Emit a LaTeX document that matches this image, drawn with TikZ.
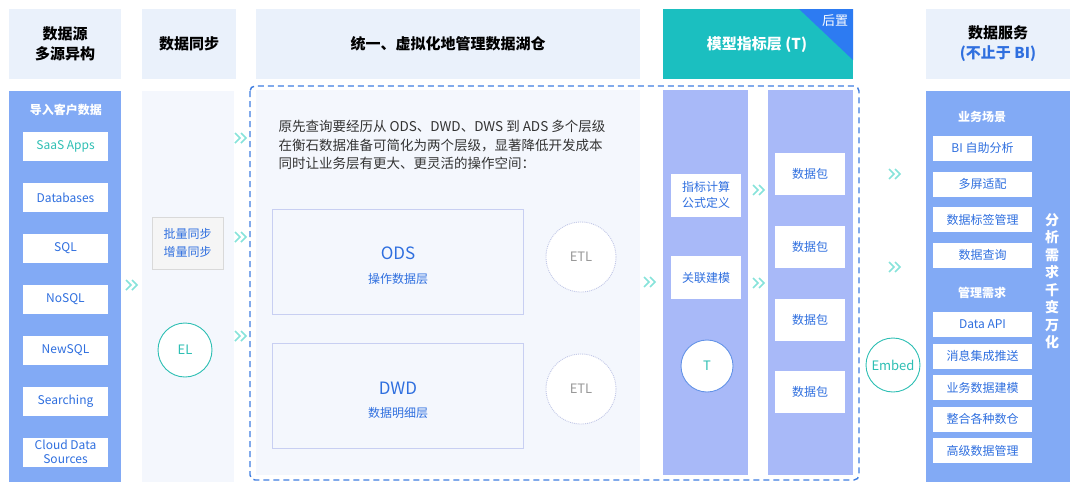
\documentclass[tikz,border=0pt]{standalone}
\usepackage{fontspec}
\setmainfont{Noto Sans CJK SC}
\definecolor{headbg}{HTML}{EAF1FB}
\definecolor{panelbg}{HTML}{F4F7FD}
\definecolor{colblue}{HTML}{82AAF5}
\definecolor{stripblue}{HTML}{A8B9F8}
\definecolor{tealhead}{HTML}{1BBFC0}
\definecolor{cornerblue}{HTML}{2D7BF2}
\definecolor{txtblue}{HTML}{2F6FDF}
\definecolor{txtteal}{HTML}{2EBFB4}
\definecolor{chevteal}{HTML}{86E3DA}
\definecolor{dashblue}{HTML}{3E7DE0}
\definecolor{layerline}{HTML}{C8CFF2}
\definecolor{txtdark}{HTML}{333333}
\begin{document}
\begin{tikzpicture}[x=1pt,y=-1pt,
    head/.style={fill=headbg,inner sep=0,align=center,font=\fontsize{15}{20}\selectfont\bfseries},
    panel/.style={inner sep=0},
    srcbox/.style={fill=white,minimum width=85,minimum height=29,inner sep=0,align=center,text=txtblue,font=\fontsize{12}{15}\selectfont},
    pkgbox/.style={fill=white,minimum width=70,minimum height=42,inner sep=0,align=center,text=txtblue,font=\fontsize{12}{16}\selectfont},
    svcbox/.style={fill=white,minimum width=99,minimum height=25,inner sep=0,text=txtblue,font=\fontsize{12}{15}\selectfont},
    layer/.style={draw=layerline,fill=panelbg,minimum width=251,minimum height=105,inner sep=0},
    etl/.style={circle,draw=layerline!90!gray,densely dotted,line width=0.9pt,fill=white,minimum size=70,inner sep=0,text=gray!80,font=\fontsize{13}{15}\selectfont},
    ring/.style={circle,draw=txtteal,line width=0.9pt,fill=white,minimum size=54,inner sep=0,text=txtteal,font=\fontsize{13}{15}\selectfont},
    sublabel/.style={text=white,font=\fontsize{12}{15}\selectfont\bfseries},
    chevline/.style={draw=chevteal,line width=1.6pt},
    chev/.pic={\draw[chevline] (-6,-5) -- (-1,0) -- (-6,5); \draw[chevline] (0,-5) -- (5,0) -- (0,5);}]
    \useasboundingbox (0,0) rectangle (1080,493);
    % headers
    \node[head,minimum width=112,minimum height=70] (srchead) at (65,44) {数据源\\多源异构};
    \node[head,minimum width=94,minimum height=70] (synchead) at (189,44) {数据同步};
    \node[head,minimum width=384,minimum height=70] (lakehead) at (448,44) {统一、虚拟化地管理数据湖仓};
    \node[head,fill=tealhead,minimum width=190,minimum height=70] (modelhead) at (758,44) {};
    \fill[cornerblue] (799,9) -- (853,9) -- (853,60) -- cycle;
    \node[text=white,font=\fontsize{15}{20}\selectfont\bfseries] (modeltitle) at (757,45) {模型指标层 (T)};
    \node[text=white,font=\fontsize{13}{15}\selectfont] (post) at (835,21) {后置};
    \node[head,minimum width=144,minimum height=70] (svchead) at (998,44) {数据服务\\\textcolor{txtblue}{(不止于 BI)}};
    % panels
    \node[panel,fill=colblue,minimum width=112,minimum height=391] (srcpanel) at (65,286) {};
    \node[panel,fill=panelbg,minimum width=92,minimum height=391] (syncpanel) at (188,286) {};
    \node[panel,fill=panelbg,minimum width=384,minimum height=385] (lakepanel) at (448,282.5) {};
    \node[panel,fill=stripblue,minimum width=85,minimum height=385] (calcstrip) at (705.5,282.5) {};
    \node[panel,fill=stripblue,minimum width=85,minimum height=385] (pkgstrip) at (810.5,282.5) {};
    \node[panel,fill=colblue,minimum width=144,minimum height=391] (svcpanel) at (998,286) {};
    \draw[dashblue,line width=1.4pt,dash pattern=on 6pt off 4pt,rounded corners=5pt] (250,86) rectangle (859,480);
    % data sources
    \node[sublabel] (srclabel) at (66,110) {导入客户数据};
    \node[srcbox,text=txtteal] (saas) at (65.5,146.5) {SaaS Apps};
    \node[srcbox] (db) at (65.5,197.5) {Databases};
    \node[srcbox] (sql) at (65.5,248) {SQL};
    \node[srcbox] (nosql) at (65.5,299) {NoSQL};
    \node[srcbox] (newsql) at (65.5,350) {NewSQL};
    \node[srcbox] (search) at (65.5,401) {Searching};
    \node[srcbox,font=\fontsize{12}{14}\selectfont] (cloud) at (65.5,452) {Cloud Data\\Sources};
    % sync
    \node[draw=gray!30,fill=gray!8,minimum width=71,minimum height=52,inner sep=0,align=center,text=txtblue,font=\fontsize{12}{18}\selectfont] (batch) at (187.5,243) {批量同步\\增量同步};
    \node[ring] (el) at (185,350) {EL};
    % lake
    \node[anchor=west,align=left,text=txtdark,font=\fontsize{13.5}{18.5}\selectfont] (intro) at (275,145) {原先查询要经历从 ODS、DWD、DWS 到 ADS 多个层级\\在衡石数据准备可简化为两个层级，显著降低开发成本\\同时让业务层有更大、更灵活的操作空间：};
    \node[layer] (ods) at (397.5,261.5) {};
    \node[text=txtblue,font=\fontsize{17}{20}\selectfont] (odsname) at (398,253) {ODS};
    \node[text=txtblue,font=\fontsize{12}{15}\selectfont] (odssub) at (398,279) {操作数据层};
    \node[layer] (dwd) at (397.5,395.5) {};
    \node[text=txtblue,font=\fontsize{17}{20}\selectfont] (dwdname) at (398,388) {DWD};
    \node[text=txtblue,font=\fontsize{12}{15}\selectfont] (dwdsub) at (398,413) {数据明细层};
    \node[etl] (etlone) at (581,257) {ETL};
    \node[etl] (etltwo) at (581,389) {ETL};
    % model layer
    \node[pkgbox,minimum height=43] (formula) at (706,195) {指标计算\\公式定义};
    \node[pkgbox,minimum height=43] (relate) at (706,277.5) {关联建模};
    \node[circle,draw=txtblue!75,line width=0.9pt,fill=white,minimum size=52,inner sep=0,text=txtteal,font=\fontsize{13}{15}\selectfont] (tcore) at (707,366) {T};
    \node[pkgbox] (pkgone) at (810,174) {数据包};
    \node[pkgbox] (pkgtwo) at (810,247) {数据包};
    \node[pkgbox] (pkgthree) at (810,319.5) {数据包};
    \node[pkgbox] (pkgfour) at (810,392) {数据包};
    \node[ring] (embed) at (893,365) {Embed};
    % services
    \node[sublabel] (bizlabel) at (982,117) {业务场景};
    \node[svcbox] (bi) at (982.5,148) {BI 自助分析};
    \node[svcbox] (screen) at (982.5,184) {多屏适配};
    \node[svcbox] (tag) at (982.5,219.5) {数据标签管理};
    \node[svcbox] (query) at (982.5,255) {数据查询};
    \node[sublabel] (mgmtlabel) at (982,293) {管理需求};
    \node[svcbox] (api) at (982.5,324.5) {Data API};
    \node[svcbox] (push) at (982.5,356) {消息集成推送};
    \node[svcbox] (bizmodel) at (982.5,387.5) {业务数据建模};
    \node[svcbox] (merge) at (982.5,419) {整合各种数仓};
    \node[svcbox] (adv) at (982.5,450.5) {高级数据管理};
    \node[align=center,text=white,font=\fontsize{14}{17.5}\selectfont\bfseries] (vert) at (1052,281) {分\\析\\需\\求\\千\\变\\万\\化};
    % chevrons
    \foreach \cx/\cy in {132/285, 241/138, 241/237, 241/336, 650/282, 759/190, 759/283, 895/174, 895/267}
        \pic at (\cx,\cy) {chev};
\end{tikzpicture}
\end{document}
